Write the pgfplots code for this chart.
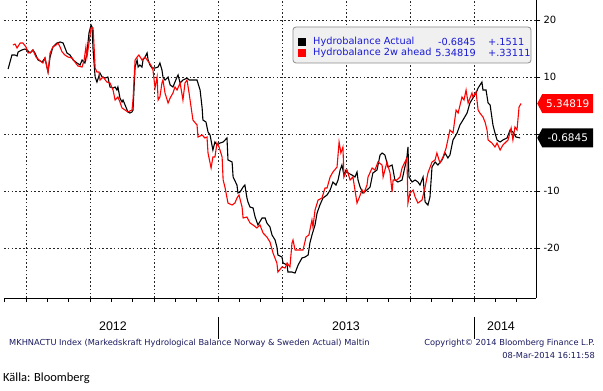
\documentclass[border=0pt]{standalone}
\usepackage{pgfplots}
\pgfplotsset{compat=1.18}
\usetikzlibrary{shapes.symbols}
\usepackage{fontspec}
\setmainfont{DejaVu Sans}
\newfontfamily\carl{Carlito}
\newfontfamily\lib{Liberation Sans}
\definecolor{legblue}{RGB}{25,25,215}
\definecolor{navy}{RGB}{25,25,95}
\definecolor{legfill}{RGB}{240,240,240}
\definecolor{legdraw}{RGB}{140,140,140}
\tikzset{gridl/.style={black!85, dash pattern=on 1.6pt off 2.2pt, line width=0.8pt},
 tag/.style={signal, signal to=west, signal pointer angle=124, draw=none, text=white,
   minimum height=19bp, minimum width=56bp, inner sep=0pt, anchor=west, xshift=1bp,
   font=\fontsize{10.5}{12}\selectfont}}
% x = years since 1 Jan 2012
\begin{document}
\begin{tikzpicture}
\path[use as bounding box] (-4bp,298bp) rectangle (599bp,-93bp);
\begin{axis}[
 scale only axis, width=532bp, height=298bp,
 xmin=0.164, xmax=2.2422, ymin=-28.77, ymax=23.51,
 axis x line*=bottom, axis y line*=right,
 axis line style={black, line width=1bp},
 xtick={0.1667,0.25,0.3333,0.4167,0.5,0.5833,0.6667,0.75,0.8333,0.9167,1,1.0833,1.1667,1.25,1.3333,1.4167,1.5,1.5833,1.6667,1.75,1.8333,1.9167,2,2.0833,2.1667},
 xticklabels={},
 ytick={-20,-10,0,10,20}, yticklabels={-20,-10,,10,20},
 tick align=outside, major tick length=4bp,
 tick style={black, line width=1bp},
 yticklabel style={font=\fontsize{10}{12}\selectfont},
 clip=false,
]
% grid lines
\addplot[gridl, forget plot] coordinates {(0.164,20)(2.2422,20)};
\addplot[gridl, forget plot] coordinates {(0.164,10)(2.2422,10)};
\addplot[gridl, forget plot] coordinates {(0.164,0)(2.2422,0)};
\addplot[gridl, forget plot] coordinates {(0.164,-10)(2.2422,-10)};
\addplot[gridl, forget plot] coordinates {(0.164,-20)(2.2422,-20)};
\addplot[gridl, forget plot] coordinates {(0.25,-28.77)(0.25,23.51)};
\addplot[gridl, forget plot] coordinates {(0.5,-28.77)(0.5,23.51)};
\addplot[gridl, forget plot] coordinates {(0.75,-28.77)(0.75,23.51)};
\addplot[gridl, forget plot] coordinates {(1,-28.77)(1,23.51)};
\addplot[gridl, forget plot] coordinates {(1.25,-28.77)(1.25,23.51)};
\addplot[gridl, forget plot] coordinates {(1.5,-28.77)(1.5,23.51)};
\addplot[gridl, forget plot] coordinates {(1.75,-28.77)(1.75,23.51)};
\addplot[gridl, forget plot] coordinates {(2,-28.77)(2,23.51)};
\addplot[black, line width=1.1bp] coordinates {
(0.180,11.40)(0.195,13.86)(0.207,13.86)(0.215,13.68)(0.219,14.39)(0.234,14.74)(0.246,14.91)(0.254,14.74)(0.266,14.21)(0.277,14.74)(0.285,14.21)(0.297,12.98)(0.313,12.63)(0.324,13.33)(0.336,10.88)(0.344,13.51)(0.355,15.26)(0.371,15.96)(0.383,16.14)(0.395,15.96)(0.410,14.21)(0.422,13.86)(0.434,12.98)(0.449,12.46)(0.461,12.11)(0.469,12.98)(0.480,12.46)(0.488,14.21)(0.496,17.72)(0.504,19.12)(0.508,18.77)(0.512,14.74)(0.520,10.00)(0.527,9.12)(0.539,10.70)(0.547,10.00)(0.559,9.82)(0.570,10.00)(0.578,8.25)(0.590,8.07)(0.598,8.25)(0.605,7.72)(0.609,8.25)(0.617,6.32)(0.625,5.61)(0.629,5.96)(0.637,5.09)(0.645,4.21)(0.648,3.86)(0.656,3.68)(0.664,3.86)(0.668,4.21)(0.676,11.75)(0.684,12.98)(0.688,11.75)(0.695,12.11)(0.703,11.75)(0.707,12.98)(0.715,13.51)(0.723,14.21)(0.727,12.98)(0.734,12.11)(0.742,11.58)(0.754,11.58)(0.766,11.75)(0.773,12.46)(0.781,11.23)(0.785,10.00)(0.793,9.47)(0.805,10.00)(0.813,8.60)(0.824,8.25)(0.840,10.00)(0.844,10.35)(0.852,8.95)(0.863,9.47)(0.879,9.82)(0.887,9.47)(0.902,9.47)(0.918,9.47)(0.930,7.72)(0.938,4.56)(0.941,2.46)(0.953,2.11)(0.961,0.35)(0.969,-0.18)(0.980,-2.81)(0.988,-1.40)(0.996,-1.93)(1.008,-1.58)(1.020,-1.40)(1.035,-0.70)(1.039,-4.56)(1.055,-4.91)(1.059,-7.54)(1.074,-8.95)(1.078,-10.35)(1.086,-10.18)(1.098,-9.30)(1.105,-8.95)(1.113,-11.23)(1.117,-11.93)(1.125,-12.81)(1.137,-12.98)(1.145,-14.56)(1.156,-15.96)(1.172,-14.74)(1.184,-14.74)(1.191,-15.61)(1.203,-16.32)(1.211,-17.72)(1.223,-18.60)(1.230,-19.82)(1.234,-21.23)(1.250,-21.58)(1.254,-22.63)(1.270,-22.98)(1.273,-24.21)(1.289,-24.21)(1.301,-24.39)(1.313,-22.98)(1.328,-21.75)(1.340,-21.58)(1.352,-21.23)(1.359,-19.12)(1.367,-17.72)(1.379,-15.96)(1.387,-13.86)(1.398,-12.46)(1.410,-11.23)(1.426,-10.70)(1.438,-9.82)(1.449,-8.42)(1.461,-8.95)(1.469,-8.07)(1.477,-6.32)(1.484,-5.44)(1.492,-7.19)(1.500,-6.32)(1.508,-6.84)(1.523,-7.19)(1.535,-7.54)(1.543,-6.67)(1.547,-8.07)(1.555,-9.30)(1.566,-10.35)(1.582,-9.82)(1.594,-9.30)(1.605,-6.84)(1.621,-6.32)(1.633,-3.68)(1.641,-3.33)(1.652,-3.68)(1.664,-5.79)(1.680,-5.44)(1.684,-6.32)(1.691,-8.07)(1.703,-8.42)(1.719,-8.07)(1.730,-5.79)(1.738,-4.04)(1.742,-2.28)(1.746,-7.54)(1.758,-8.42)(1.770,-8.07)(1.781,-8.42)(1.789,-8.95)(1.801,-7.54)(1.809,-11.93)(1.820,-12.46)(1.828,-11.05)(1.836,-5.79)(1.848,-4.91)(1.859,-5.44)(1.875,-4.56)(1.887,-3.33)(1.898,-4.21)(1.906,-3.68)(1.918,-1.05)(1.934,0.18)(1.945,1.58)(1.957,2.46)(1.973,3.68)(1.984,5.44)(1.996,6.32)(2.008,7.19)(2.016,8.07)(2.031,9.12)(2.035,7.72)(2.047,7.72)(2.055,5.44)(2.063,5.09)(2.074,1.58)(2.082,0.18)(2.090,-1.05)(2.102,-1.40)(2.113,-1.05)(2.129,-0.70)(2.141,0.70)(2.152,0.35)(2.164,-0.53)(2.180,-0.6845)
};
\addplot[red, line width=1.1bp] coordinates {
(0.199,15.61)(0.207,15.79)(0.215,15.09)(0.227,15.96)(0.238,15.96)(0.250,15.26)(0.258,14.21)(0.270,14.39)(0.277,14.74)(0.289,13.51)(0.301,12.98)(0.316,12.46)(0.324,13.33)(0.336,10.88)(0.344,14.21)(0.355,15.26)(0.367,15.61)(0.375,15.96)(0.383,15.26)(0.391,14.39)(0.402,13.86)(0.414,13.51)(0.430,13.33)(0.441,12.63)(0.453,11.93)(0.469,11.75)(0.477,12.98)(0.484,15.26)(0.488,13.51)(0.496,15.96)(0.504,18.60)(0.512,18.60)(0.516,15.26)(0.520,11.58)(0.527,10.88)(0.535,10.88)(0.539,9.47)(0.551,10.00)(0.566,9.12)(0.578,8.95)(0.590,7.72)(0.598,5.96)(0.609,6.49)(0.617,5.61)(0.625,4.56)(0.637,4.21)(0.648,3.86)(0.664,4.21)(0.668,5.96)(0.676,12.98)(0.684,13.51)(0.691,13.86)(0.703,12.98)(0.715,13.51)(0.723,12.98)(0.730,12.63)(0.742,11.75)(0.746,11.23)(0.754,8.07)(0.762,10.00)(0.766,5.96)(0.773,6.49)(0.781,8.95)(0.785,9.47)(0.793,7.19)(0.805,5.44)(0.813,6.32)(0.824,7.19)(0.832,8.25)(0.840,7.72)(0.852,8.95)(0.863,5.96)(0.871,8.95)(0.879,9.47)(0.887,7.19)(0.902,2.46)(0.918,1.58)(0.922,-0.53)(0.938,-0.18)(0.949,-0.70)(0.957,-0.53)(0.961,-3.33)(0.973,-5.96)(0.980,-4.04)(0.988,-4.04)(0.996,-1.58)(1.004,-2.28)(1.016,-4.04)(1.020,-8.07)(1.027,-9.30)(1.039,-12.11)(1.055,-12.46)(1.066,-12.11)(1.074,-11.23)(1.082,-10.70)(1.094,-12.81)(1.098,-14.74)(1.113,-14.56)(1.125,-15.61)(1.137,-15.96)(1.152,-16.49)(1.164,-15.96)(1.176,-17.37)(1.191,-18.07)(1.203,-18.95)(1.215,-20.88)(1.230,-22.63)(1.234,-24.21)(1.250,-23.33)(1.262,-23.51)(1.270,-22.63)(1.281,-23.33)(1.289,-19.12)(1.293,-18.60)(1.301,-20.35)(1.320,-20.35)(1.332,-20.35)(1.344,-18.07)(1.355,-17.72)(1.367,-15.09)(1.371,-16.32)(1.379,-13.33)(1.391,-11.58)(1.406,-11.23)(1.418,-9.47)(1.426,-9.47)(1.438,-7.54)(1.449,-6.67)(1.465,-5.79)(1.473,-1.40)(1.480,-3.33)(1.488,-2.28)(1.492,-7.54)(1.504,-6.32)(1.516,-8.07)(1.527,-7.54)(1.535,-9.82)(1.543,-12.11)(1.551,-11.23)(1.563,-9.82)(1.570,-10.35)(1.582,-8.95)(1.586,-7.54)(1.602,-5.96)(1.613,-6.32)(1.625,-4.91)(1.641,-5.44)(1.645,-7.54)(1.660,-4.91)(1.672,-6.84)(1.680,-10.18)(1.684,-8.07)(1.699,-8.07)(1.711,-7.54)(1.719,-5.96)(1.730,-4.91)(1.738,-4.21)(1.742,-12.11)(1.750,-10.35)(1.762,-9.82)(1.770,-11.05)(1.781,-12.11)(1.797,-11.58)(1.809,-9.30)(1.820,-6.84)(1.836,-4.91)(1.848,-4.56)(1.855,-3.33)(1.867,-5.09)(1.879,-4.04)(1.891,-2.46)(1.906,0.70)(1.918,0.18)(1.930,4.21)(1.938,3.68)(1.953,6.49)(1.961,5.96)(1.969,7.72)(1.977,5.44)(1.992,7.19)(1.996,6.49)(2.008,7.37)(2.016,4.21)(2.023,3.68)(2.035,2.98)(2.043,2.11)(2.051,0.70)(2.055,-1.05)(2.070,-1.58)(2.082,-2.28)(2.090,-1.58)(2.102,-2.81)(2.113,-1.93)(2.121,-1.58)(2.133,-1.05)(2.145,1.05)(2.152,-1.05)(2.160,1.23)(2.168,0.70)(2.176,4.74)(2.184,5.348)
};
% value tags at the right axis
\addplot[draw=none, mark=none, forget plot, point meta=explicit symbolic, nodes near coords,
  nodes near coords style={tag, fill=red}] coordinates {(2.2422,5.34819) [5.34819]};
\addplot[draw=none, mark=none, forget plot, point meta=explicit symbolic, nodes near coords,
  nodes near coords style={tag, fill=black}] coordinates {(2.2422,-0.6845) [-0.6845]};
\end{axis}
\begin{scope}[shift={(-4bp,298bp)}]
% year separators and labels
\draw[black, line width=1bp] (218bp,-317bp) -- (218bp,-339bp);
\draw[black, line width=1bp] (474bp,-317bp) -- (474bp,-339bp);
\node[font=\lib\fontsize{12.5}{14}\selectfont, inner sep=0] at (113bp,-326bp) {2012};
\node[font=\lib\fontsize{12.5}{14}\selectfont, inner sep=0] at (346bp,-326bp) {2013};
\node[font=\lib\fontsize{12.5}{14}\selectfont, inner sep=0] at (501bp,-326bp) {2014};
% legend
\filldraw[fill=legfill, draw=legdraw, rounded corners=3bp, line width=0.8bp] (293bp,-27bp) rectangle (531bp,-63bp);
\fill[black] (298bp,-38bp) rectangle (306bp,-46bp);
\fill[red] (298bp,-49bp) rectangle (306bp,-57bp);
\begin{scope}[every node/.style={inner sep=0, text=legblue, font=\fontsize{9.8}{11}\selectfont}]
\node[anchor=west] at (313bp,-42bp) {Hydrobalance Actual};
\node[anchor=east] at (476bp,-42bp) {-0.6845};
\node[anchor=west] at (488bp,-42bp) {+.1511};
\node[anchor=west] at (313bp,-53bp) {Hydrobalance 2w ahead};
\node[anchor=east] at (476bp,-53bp) {5.34819};
\node[anchor=west] at (488bp,-53bp) {+.33111};
\end{scope}
% footers
\begin{scope}[every node/.style={inner sep=0, text=navy, font=\fontsize{8.3}{9}\selectfont}]
\node[anchor=west] at (9bp,-343bp) {MKHNACTU Index (Markedskraft Hydrological Balance Norway \& Sweden Actual) Maltin};
\node[anchor=east] at (595bp,-343bp) {Copyright© 2014 Bloomberg Finance L.P.};
\node[anchor=east] at (595bp,-355bp) {08-Mar-2014 16:11:58};
\end{scope}
\node[anchor=west, inner sep=0, font=\carl\fontsize{12.5}{14}\selectfont] at (3bp,-378bp) {Källa: Bloomberg};
\end{scope}
\end{tikzpicture}
\end{document}
